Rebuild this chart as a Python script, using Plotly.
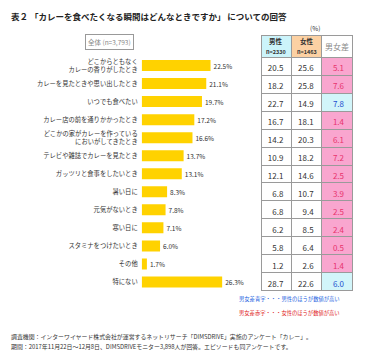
import plotly.graph_objects as go

categories = [
    "どこからともなく<br>カレーの香りがしたとき",
    "カレーを見たときや思い出したとき",
    "いつでも食べたい",
    "カレー店の前を通りかかったとき",
    "どこかの家がカレーを作っている<br>においがしてきたとき",
    "テレビや雑誌でカレーを見たとき",
    "ガッツリと食事をしたいとき",
    "暑い日に",
    "元気がないとき",
    "寒い日に",
    "スタミナをつけたいとき",
    "その他",
    "特にない",
]
total = [22.5, 21.1, 19.7, 17.2, 16.6, 13.7, 13.1, 8.3, 7.8, 7.1, 6.0, 1.7, 26.3]
male = [20.5, 18.2, 22.7, 16.7, 14.2, 10.9, 12.1, 6.8, 6.8, 6.2, 5.8, 1.2, 28.7]
female = [25.6, 25.8, 14.9, 18.1, 20.3, 18.2, 14.6, 10.7, 9.4, 8.5, 6.4, 2.6, 22.6]
diff = [5.1, 7.6, 7.8, 1.4, 6.1, 7.2, 2.5, 3.9, 2.5, 2.4, 0.5, 1.4, 6.0]
higher = ["F", "F", "M", "F", "F", "F", "F", "F", "F", "F", "F", "F", "M"]
header_titles = ["男性", "女性", "男女差"]
header_counts = ["n=2330", "n=1463", ""]

# page body has an 8px default margin; the figure is sized to fit inside the window
OFF = 8
W, H = 384 - OFF, 355 - OFF
FONT = "Noto Sans CJK JP"

def px(x):
    return (x - OFF) / W

def py(y):
    return 1 - (y - OFF) / H

fig = go.Figure()

fig.add_trace(go.Bar(
    y=categories, x=total, orientation="h",
    marker=dict(color="#FFD200", line=dict(width=0)),
    width=0.61,
    texttemplate="%{x:.1f}%", textposition="outside",
    textfont=dict(size=6.5, color="#333333", family=FONT),
    cliponaxis=False, hoverinfo="skip",
))

pink = "#F9A6CF"
cyan = "#D2F5FA"
diff_fill = [pink if h == "F" else cyan for h in higher]
diff_color = ["#E8336D" if h == "F" else "#1F4FCF" for h in higher]

col_x = [261, 291.5, 321.8, 352]

fig.add_trace(go.Table(
    domain=dict(x=[px(col_x[0]), px(col_x[-1])], y=[0.02, py(35)]),
    columnwidth=[30, 30, 30],
    header=dict(
        values=[" ", " ", " "],
        fill=dict(color=["#CCF4FA", "#FCD1A3", "#FFFFFF"]),
        line=dict(color="#9A9A9A", width=1),
        align="center",
        font=dict(family=FONT, size=5, color="#333333"),
        height=22.3,
    ),
    cells=dict(
        values=[[f"{v:.1f}" for v in male], [f"{v:.1f}" for v in female], [f"{v:.1f}" for v in diff]],
        fill=dict(color=[["#FFFFFF"] * 13, ["#FFFFFF"] * 13, diff_fill]),
        line=dict(color="#9A9A9A", width=1),
        align="right",
        font=dict(family=FONT, size=8, color=[["#333333"] * 13, ["#333333"] * 13, diff_color]),
        height=17.95,
    ),
))

fig.update_layout(
    width=W, height=H,
    margin=dict(l=0, r=0, t=0, b=0),
    paper_bgcolor="white", plot_bgcolor="white",
    showlegend=False,
    font=dict(family=FONT, color="#333333"),
    xaxis=dict(domain=[px(141.7), px(250)], range=[0, 35.4], visible=False, fixedrange=True),
    yaxis=dict(domain=[py(291), py(56.5)], autorange="reversed", showgrid=False, showline=False,
               ticks="", tickfont=dict(size=6.3, color="#333333", family=FONT),
               ticklabelstandoff=3, fixedrange=True),
    bargap=0.39,
)

annotations = [
    dict(x=px(8.5), y=1, text="表２ 「カレーを食べたくなる瞬間はどんなときですか」 についての回答",
         xanchor="left", yanchor="top", font=dict(size=8.5, color="#222222", weight="bold")),
    dict(x=px(315), y=py(28), text="(%)", xanchor="center", font=dict(size=6.5, color="#333333")),
    dict(x=px(110), y=py(41.5), text="全体 (n=3,793)", xanchor="center",
         font=dict(size=6.5, color="#888888"), bordercolor="#999999", borderwidth=1, borderpad=2),
    dict(x=px(342), y=py(299), text="男女差青字・・・男性のほうが数値が高い", xanchor="right",
         font=dict(size=5.3, color="#2060E0")),
    dict(x=px(342), y=py(313), text="男女差赤字・・・女性のほうが数値が高い", xanchor="right",
         font=dict(size=5.3, color="#E02020")),
    dict(x=px(8.5), y=py(336), text="調査機関：インターワイヤード株式会社が運営するネットリサーチ「DIMSDRIVE」実施のアンケート「カレー」。",
         xanchor="left", font=dict(size=5.9, color="#333333")),
    dict(x=px(8.5), y=py(346), text="期間：2017年11月22日～12月8日、DIMSDRIVEモニター3,898人が回答。エピソードも同アンケートです。",
         xanchor="left", font=dict(size=5.9, color="#333333")),
]
for i in range(3):
    cx = (col_x[i] + col_x[i + 1]) / 2
    if header_counts[i]:
        annotations.append(dict(x=px(cx), y=py(41), text="<b>" + header_titles[i] + "</b>",
                                xanchor="center", font=dict(size=6.5, color="#333333")))
        annotations.append(dict(x=px(cx), y=py(52), text="<b>" + header_counts[i] + "</b>",
                                xanchor="center", font=dict(size=5.5, color="#333333")))
    else:
        annotations.append(dict(x=px(cx), y=py(46), text=header_titles[i],
                                xanchor="center", font=dict(size=8, color="#888888")))
for a in annotations:
    a.setdefault("yanchor", "middle")
    a.update(xref="paper", yref="paper", showarrow=False)
fig.update_layout(annotations=annotations)

fig.write_html("out.html")
